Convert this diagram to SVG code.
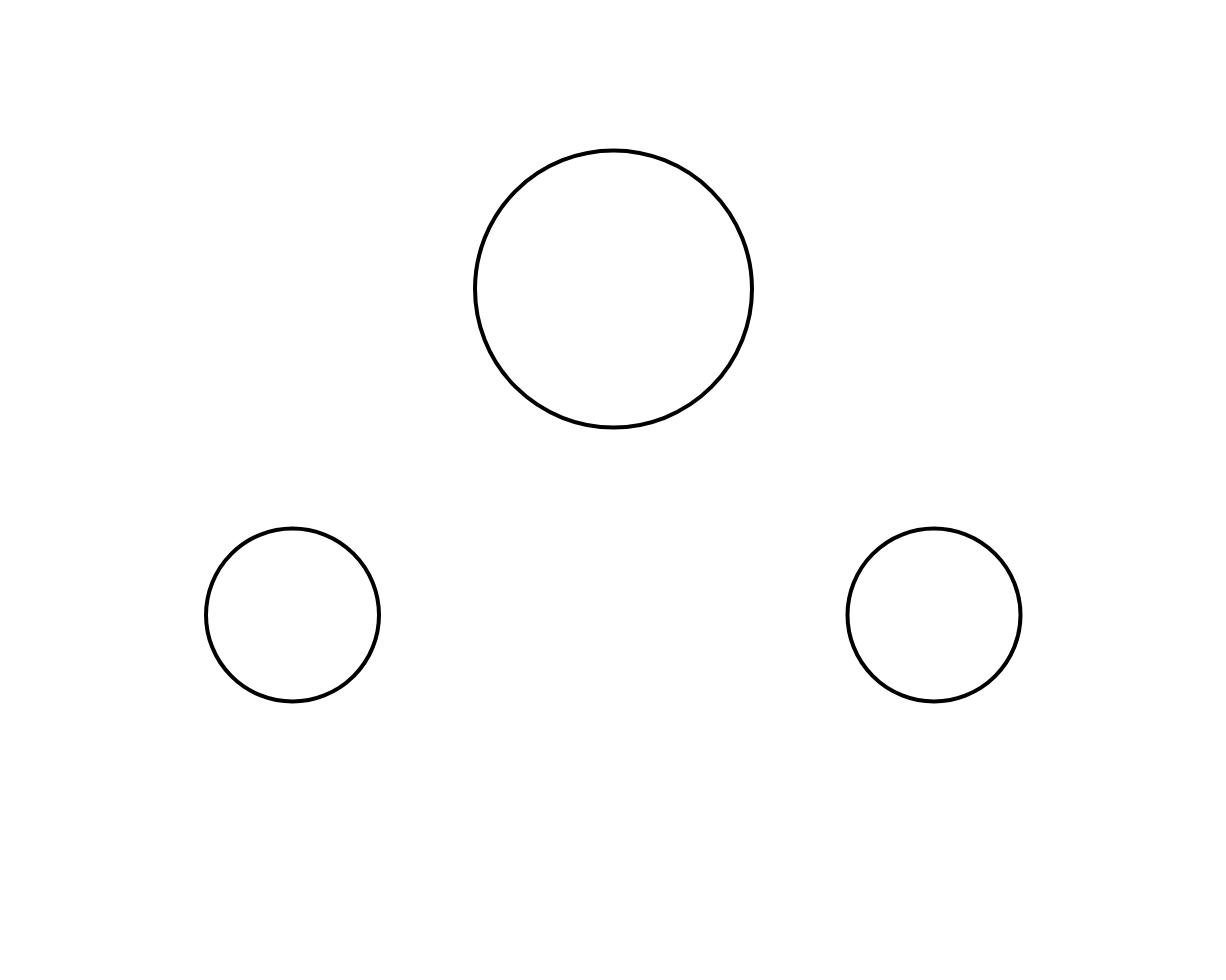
<svg xmlns="http://www.w3.org/2000/svg" width="1226" height="980" viewBox="0 0 1226 980">
<style>
.node{fill:#ffffff;stroke:#000000;stroke-width:4}
</style>
<rect width="1226" height="980" fill="#ffffff"/>
<g id="connectors"></g>
<g id="node-top"><circle class="node" cx="613.5" cy="289" r="138.5"/></g>
<g id="node-left"><circle class="node" cx="292.5" cy="615" r="86.5"/></g>
<g id="node-right"><circle class="node" cx="934" cy="615" r="86.5"/></g>
</svg>
